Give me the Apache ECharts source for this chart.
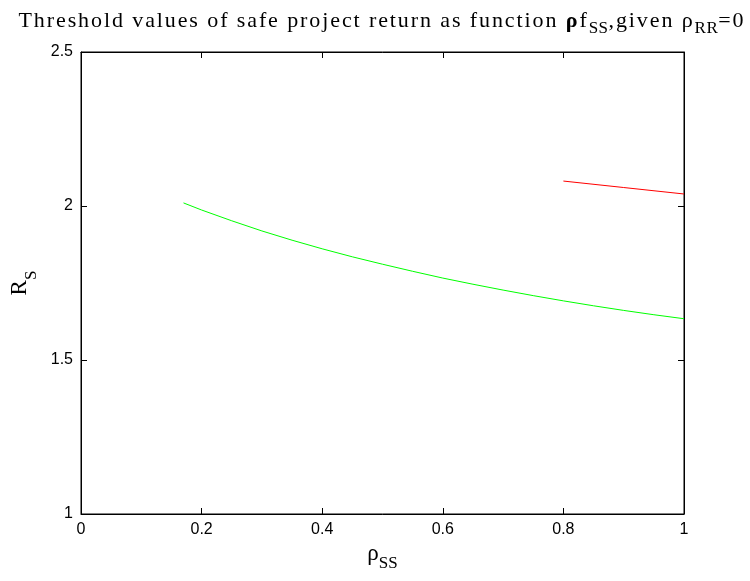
<!DOCTYPE html>
<html>
<head>
<meta charset="utf-8">
<script src="https://cdn.jsdelivr.net/npm/echarts@6/dist/echarts.min.js"></script>
<style>html,body{margin:0;padding:0;background:#fff}#c{width:750px;height:581px}</style>
</head>
<body>
<div id="c"></div>
<script>
const xTicks = [0, 0.2, 0.4, 0.6, 0.8, 1];
const yTicks = [1, 1.5, 2, 2.5];
const greenX = [0.17, 0.2, 0.25, 0.3, 0.35, 0.4, 0.45, 0.5, 0.55, 0.6, 0.65, 0.7, 0.75, 0.8, 0.85, 0.9, 0.95, 1.0];
const greenY = [2.010, 1.987, 1.952, 1.919, 1.889, 1.861, 1.835, 1.811, 1.788, 1.766, 1.746, 1.727, 1.709, 1.692, 1.676, 1.661, 1.647, 1.634];
const redX = [0.8, 0.9, 1.0];
const redY = [2.081, 2.060, 2.039];
const titleParts = [['a', 'Threshold values of safe project return as function '], ['b', 'ρ'], ['a', 'f'], ['s', 'SS'], ['a', ',given ρ'], ['s', 'RR'], ['a', '=0']];

const chart = echarts.init(document.getElementById('c'));
const serif = '"Liberation Serif", "Times New Roman", serif';
const sans = '"Liberation Sans", Arial, sans-serif';
const ls = 1.9;
const titleText = titleParts.map(([k, t]) => Array.from(t).map(c => '{' + k + '|' + c + '}').join('')).join('');
const axisCommon = {
  axisLine: {show: true, onZero: false, lineStyle: {color: '#000', width: 1}},
  axisTick: {show: true, inside: true, length: 6, lineStyle: {color: '#000'}},
  splitLine: {show: false}
};
chart.setOption({
  backgroundColor: '#fff',
  animation: false,
  title: {
    left: 377, textAlign: 'center', top: 5,
    text: titleText,
    textStyle: {
      fontWeight: 'normal',
      rich: {
        a: {fontFamily: serif, fontSize: 22, fontWeight: 'normal', color: '#000', verticalAlign: 'top', lineHeight: 24, padding: [0, ls, 0, 0]},
        b: {fontFamily: serif, fontSize: 22, fontWeight: 'bold', color: '#000', verticalAlign: 'top', lineHeight: 24, padding: [0, ls, 0, 0]},
        s: {fontFamily: serif, fontSize: 17, fontWeight: 'normal', color: '#000', verticalAlign: 'top', lineHeight: 24, padding: [10, 0.5, 0, 0]}
      }
    }
  },
  grid: {left: 81, right: 66, top: 52, bottom: 67, show: true, borderColor: '#000', borderWidth: 1, backgroundColor: '#fff'},
  xAxis: [
    Object.assign({
      type: 'value', min: xTicks[0], max: xTicks[xTicks.length - 1], interval: 0.2,
      axisLabel: {color: '#000', fontFamily: sans, fontSize: 16, margin: 8,
        formatter: v => xTicks.includes(Math.round(v * 10) / 10) ? String(Math.round(v * 10) / 10) : ''},
      name: '{r|ρ}{s|SS}', nameLocation: 'middle', nameGap: 28,
      nameTextStyle: {rich: {
        r: {fontFamily: serif, fontSize: 23, color: '#000', verticalAlign: 'top', lineHeight: 24},
        s: {fontFamily: serif, fontSize: 17, color: '#000', verticalAlign: 'top', lineHeight: 24, padding: [12, 0, 0, 0]}
      }}
    }, axisCommon),
    Object.assign({
      type: 'value', position: 'top', min: 0, max: 1, interval: 0.2,
      axisLabel: {show: false}
    }, axisCommon)
  ],
  yAxis: [
    Object.assign({
      type: 'value', min: yTicks[0], max: yTicks[yTicks.length - 1], interval: 0.5,
      axisLabel: {color: '#000', fontFamily: sans, fontSize: 16, margin: 8, formatter: v => String(v)},
      name: '{r|R}{s|S}', nameLocation: 'middle', nameGap: 48, nameRotate: 90,
      nameTextStyle: {rich: {
        r: {fontFamily: serif, fontSize: 23, color: '#000', verticalAlign: 'top', lineHeight: 24},
        s: {fontFamily: serif, fontSize: 17, color: '#000', verticalAlign: 'top', lineHeight: 24, padding: [14, 0, 0, 0]}
      }}
    }, axisCommon),
    Object.assign({
      type: 'value', position: 'right', min: 1, max: 2.5, interval: 0.5,
      axisLabel: {show: false}
    }, axisCommon)
  ],
  series: [
    {type: 'line', data: greenX.map((x, i) => [x, greenY[i]]), showSymbol: false, smooth: false,
     lineStyle: {color: '#00ff00', width: 1}, itemStyle: {color: '#00ff00'}},
    {type: 'line', data: redX.map((x, i) => [x, redY[i]]), showSymbol: false,
     lineStyle: {color: '#ff0000', width: 1}, itemStyle: {color: '#ff0000'}}
  ]
});
</script>
</body>
</html>
